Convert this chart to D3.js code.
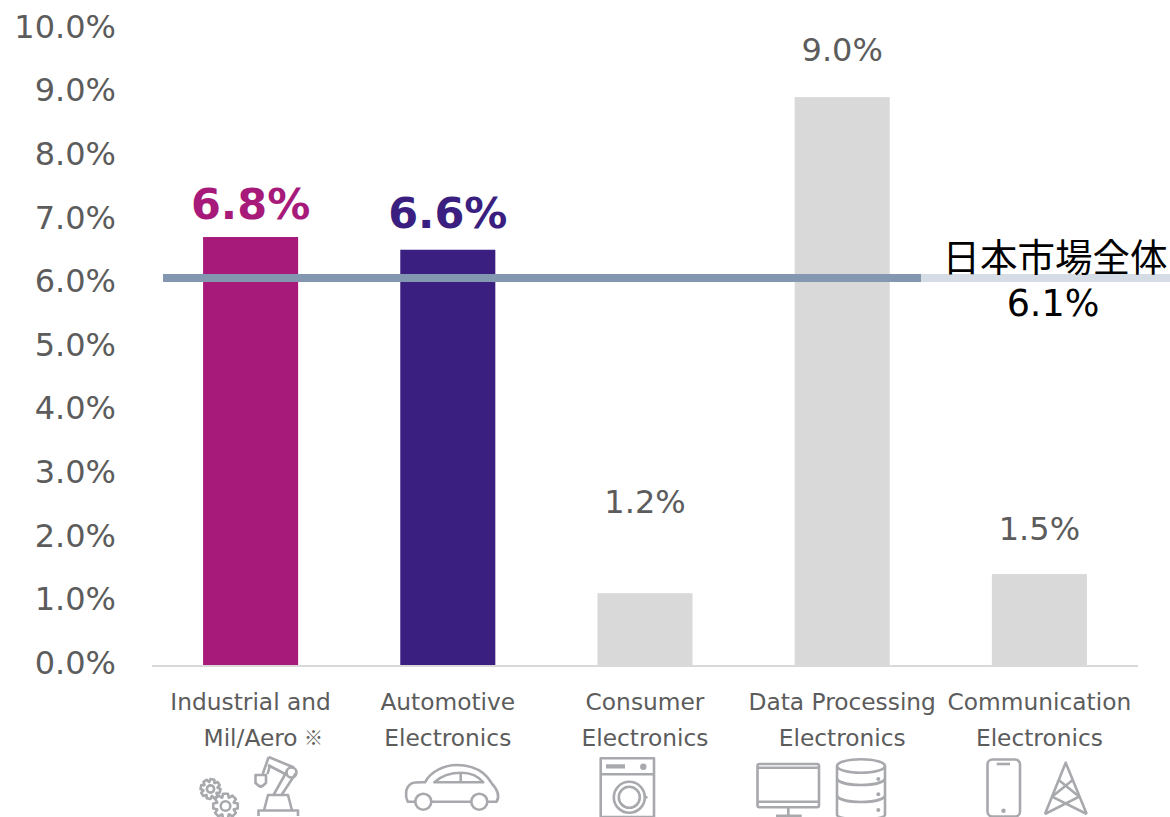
<!DOCTYPE html>
<html>
<head>
<meta charset="utf-8">
<script src="https://cdn.jsdelivr.net/npm/d3@7/dist/d3.min.js"></script>
<style>
html, body { margin: 0; padding: 0; background: #fff; }
svg { display: block; }
text { font-family: "DejaVu Sans", Verdana, sans-serif; }
</style>
</head>
<body>
<svg id="chart" width="1170" height="817"></svg>
<script>
const categoryLines = [
  ["Industrial and", "Mil/Aero"],
  ["Automotive", "Electronics"],
  ["Consumer", "Electronics"],
  ["Data Processing", "Electronics"],
  ["Communication", "Electronics"]
];
const growthRates = [6.8, 6.6, 1.2, 9.0, 1.5];
const barColors = ["#a71a7a", "#3a1f80", "#d9d9d9", "#d9d9d9", "#d9d9d9"];
const yTicks = [0, 1, 2, 3, 4, 5, 6, 7, 8, 9, 10];
const marketRate = 6.1;
const marketLabel = "日本市場全体";

const svg = d3.select("#chart");
const textGray = "#5c5c5c";
const iconGray = "#a7a9ad";

const y = d3.scaleLinear().domain([0, 10]).range([666, 30]);
const x = d3.scaleBand()
  .domain(d3.range(growthRates.length))
  .range([152, 1138])
  .paddingInner(0.518)
  .paddingOuter(0.259);

// Columns sit slightly below their scale position, as in the source layout
const barInset = 3.5;
// Distance from each column top to its value label baseline
const labelLift = [18, 22, 80, 36, 34];

// Value axis: labels only, no domain line or tick marks
const yAxis = d3.axisLeft(y).tickValues(yTicks).tickSize(0).tickPadding(0)
  .tickFormat(d => d.toFixed(1) + "%");
const yG = svg.append("g").attr("transform", "translate(116,-3)").call(yAxis);
yG.select(".domain").remove();
yG.selectAll("text")
  .style("font-family", '"DejaVu Sans", Verdana, sans-serif')
  .attr("font-size", 32)
  .attr("fill", textGray);

// Columns
svg.append("g").selectAll("rect").data(growthRates).join("rect")
  .attr("x", (d, i) => x(i))
  .attr("width", x.bandwidth())
  .attr("y", d => y(d) + barInset)
  .attr("height", d => y(0) - y(d) - barInset)
  .attr("fill", (d, i) => barColors[i]);

// Category baseline
svg.append("line")
  .attr("x1", x.range()[0]).attr("x2", x.range()[1])
  .attr("y1", y(0)).attr("y2", y(0))
  .attr("stroke", "#d9d9d9").attr("stroke-width", 2);

// Value labels above each column
const highlighted = i => i < 2;
svg.append("g").selectAll("text").data(growthRates).join("text")
  .attr("x", (d, i) => x(i) + x.bandwidth() / 2)
  .attr("y", (d, i) => y(d) + barInset - labelLift[i])
  .attr("text-anchor", "middle")
  .attr("font-size", (d, i) => highlighted(i) ? 43 : 32)
  .attr("font-weight", (d, i) => highlighted(i) ? 700 : 400)
  .attr("fill", (d, i) => highlighted(i) ? barColors[i] : textGray)
  .text(d => d.toFixed(1) + "%");

// Japan market reference line, lighter where it runs past the last dark segment
svg.append("line")
  .attr("x1", 921).attr("x2", 1170).attr("y1", y(marketRate)).attr("y2", y(marketRate))
  .attr("stroke", "#d6dce5").attr("stroke-width", 8);
svg.append("line")
  .attr("x1", 163).attr("x2", 921).attr("y1", y(marketRate)).attr("y2", y(marketRate))
  .attr("stroke", "#8497b0").attr("stroke-width", 8);
svg.append("text")
  .attr("x", 1055).attr("y", 271)
  .attr("text-anchor", "middle")
  .attr("font-size", 37.5)
  .style("font-family", '"Noto Sans CJK JP", sans-serif')
  .attr("fill", "#000")
  .text(marketLabel);
svg.append("text")
  .attr("x", 1053).attr("y", 316)
  .attr("text-anchor", "middle")
  .attr("font-size", 36.5)
  .attr("fill", "#000")
  .text(marketRate.toFixed(1) + "%");

// Category labels
const catG = svg.append("g").selectAll("text").data(categoryLines).join("text")
  .attr("text-anchor", "middle")
  .attr("font-size", 23.3)
  .attr("fill", textGray);
catG.each(function (lines, i) {
  d3.select(this).selectAll("tspan").data(lines).join("tspan")
    .attr("x", x(i) + x.bandwidth() / 2)
    .attr("y", (l, k) => 710 + k * 36)
    .text(l => l);
});
svg.append("text")
  .attr("x", 304).attr("y", 745).attr("font-size", 19)
  .style("font-family", '"Noto Sans CJK JP", sans-serif')
  .attr("fill", textGray)
  .attr("text-anchor", "start")
  .text("※");

// Line icons under the category labels
const icons = svg.append("g")
  .attr("fill", "none")
  .attr("stroke", iconGray)
  .attr("stroke-width", 2.6)
  .attr("stroke-linejoin", "round");
const outline = d => icons.append("path").attr("d", d);
const ring = (cx, cy, r) => icons.append("circle").attr("cx", cx).attr("cy", cy).attr("r", r);
const dot = (cx, cy, r) => ring(cx, cy, r).attr("fill", iconGray).attr("stroke", "none");

// Cog outline built from alternating tooth radii
function cog(cx, cy, outer, inner, hole, teeth, turn) {
  const pts = [];
  d3.range(teeth).forEach(k => {
    const a = turn + k * 2 * Math.PI / teeth;
    const w = Math.PI / teeth;
    [[inner, -w * 0.95], [outer, -w * 0.5], [outer, w * 0.5], [inner, w * 0.95]].forEach(([r, da]) => {
      pts.push([a + da, r]);
    });
  });
  icons.append("path")
    .attr("transform", `translate(${cx},${cy})`)
    .attr("d", d3.lineRadial().curve(d3.curveLinearClosed)(pts));
  ring(cx, cy, hole);
}
cog(210.5, 789, 10, 7.2, 3.6, 8, 0.2);
cog(225.5, 806, 12.5, 9, 4.8, 8, 0);

// Robot arm
outline("M258.5,816 L258.5,810.5 L298,810.5 L298,816");
outline("M264,810.5 L268,795 L288,795 L292,810.5");
outline("M273.5,795 L287,771 M281.5,795 L296,773");
outline("M268.7,757 L294,767.5 M268,765 L287,775");
outline("M262.7,774 L268.7,757 M267.5,774 L270,765.5");
ring(291.5, 772.5, 5);
outline("M255.5,775 L266,775 L266,783 L262.5,786 L259,786 L255.5,783 Z");
outline("M260.7,786 L260.7,788");

// Car
outline("M415,801.7 L407.7,801.7 C405,796 405,787 411.7,783.3 C415,782 420,782.3 425,782.3 C431,771 445,765 456.7,765 C469,765 478,769 483.3,773.3 C488,777 490,781 491.7,783.3 C497,789 500,796 496.7,801.7 L488,801.7");
outline("M431.5,801.7 L471,801.7");
ring(423.3, 801.7, 8);
ring(479.3, 801.7, 8);
outline("M434.3,782.3 C442,775 452,772.7 461.7,772.7 C470,772.7 478,776 483.3,782.3 Z");
outline("M460.7,773 L460.7,782.3");

// Washing machine
outline("M600.7,817 L600.7,758.3 L654,758.3 L654,817 Z");
outline("M600.7,774.3 L654,774.3");
icons.append("rect").attr("x", 606).attr("y", 764.3).attr("width", 19).attr("height", 4.2)
  .attr("fill", iconGray).attr("stroke", "none");
dot(643.3, 766.7, 3.2);
ring(629.3, 797.3, 15.5);
ring(629.3, 797.3, 10.5);
outline("M644.8,797.3 L647.5,797.3");

// Desktop monitor
icons.append("rect").attr("x", 757.5).attr("y", 764).attr("width", 61.5).attr("height", 43.3).attr("rx", 2);
outline("M757.5,767.7 L819,767.7 M757.5,801.7 L819,801.7");
outline("M788.3,807.3 L788.3,815.7 M776,815.7 L801.7,815.7");

// Database cylinder
icons.append("ellipse").attr("cx", 861).attr("cy", 766).attr("rx", 24).attr("ry", 6.8);
outline("M837,766 L837,815 C840,821 882,821 885,815 L885,766");
outline("M837,779 C842,787 880,787 885,779");
outline("M837,796 C842,804 880,804 885,796");
dot(878.3, 779, 2);
dot(878.3, 794.3, 2);
dot(878.3, 810, 2);

// Smartphone
icons.append("rect").attr("x", 987.5).attr("y", 759.5).attr("width", 32.5).attr("height", 57).attr("rx", 5);
outline("M996.7,764 L1010,764");
dot(1003.5, 810.7, 2.2);

// Lattice tower
outline("M1045,814 L1065.7,762.7 L1086.7,814");
outline("M1058.7,780 L1079.3,796.7 M1072.7,780 L1052,796.7");
outline("M1052,796.7 L1086.7,814 M1079.3,796.7 L1045,814");
</script>
</body>
</html>
